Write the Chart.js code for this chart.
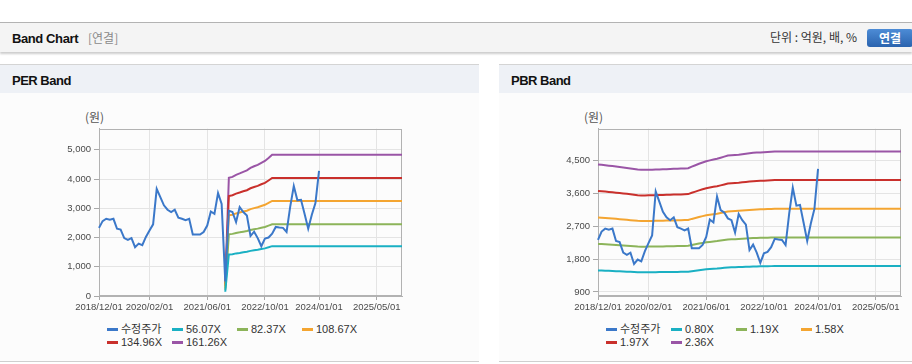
<!DOCTYPE html>
<html><head><meta charset="utf-8">
<script src="https://cdn.jsdelivr.net/npm/chart.js@4.4.1/dist/chart.umd.min.js"></script>
<style>
html,body{margin:0;padding:0;background:#fff;width:912px;height:364px;overflow:hidden;font-family:"Liberation Sans","Noto Sans CJK KR",sans-serif;}
.abs{position:absolute;}
#topbar{left:0;top:22px;width:912px;height:29px;background:#f4f4f4;border-top:1px solid #b3b3b3;box-shadow:0 2px 2px rgba(0,0,0,0.2);}
#title{left:12px;top:31px;font-size:13px;line-height:16px;font-weight:bold;color:#111;letter-spacing:-0.4px;}
#sub{left:88px;top:30px;font-size:12px;line-height:16px;color:#8a8a8a;font-family:"Noto Sans CJK KR",sans-serif;}
#unit{right:55px;top:29px;font-size:12px;line-height:16px;color:#333;font-family:"Noto Sans CJK KR",sans-serif;}
#btn{left:867px;top:29px;width:46px;height:18px;border-radius:3px;background:linear-gradient(#4d8cd6,#2a63ae);color:#fff;font-weight:bold;font-size:12px;line-height:18px;text-align:center;font-family:"Noto Sans CJK KR",sans-serif;}
.panel{top:64px;height:296px;border-top:1px solid #d4d4d4;border-bottom:1px solid #cfcfcf;background:#fcfcfc;}
.phead{left:0;top:0;right:0;height:28px;background:#eef1f6;}
.ptitle{top:8px;left:12px;font-size:13px;line-height:16px;font-weight:bold;color:#111;letter-spacing:-0.5px;}
.ylab{font-size:12px;line-height:16px;color:#555;font-family:"Noto Sans CJK KR",sans-serif;}
.legend{top:323px;width:270px;font-size:11px;line-height:13px;color:#333;}
.item{display:inline-block;width:65px;white-space:nowrap;}
.mk{display:inline-block;width:11px;height:3px;vertical-align:middle;margin-right:3px;position:relative;top:-1px;}
canvas{position:absolute;}
</style>
</head><body>
<div id="topbar" class="abs"></div>
<div id="title" class="abs">Band Chart</div>
<div id="sub" class="abs">[연결]</div>
<div id="unit" class="abs">단위 : 억원, 배, %</div>
<div id="btn" class="abs">연결</div>

<div class="abs panel" style="left:0;width:479px;"><div class="abs phead"></div><div class="abs ptitle">PER Band</div></div>
<div class="abs panel" style="left:499px;width:413px;"><div class="abs phead"></div><div class="abs ptitle">PBR Band</div></div>

<div class="abs ylab" style="left:85px;top:109px;">(원)</div>
<div class="abs ylab" style="left:584px;top:109px;">(원)</div>

<canvas id="per" width="365" height="196" style="left:50px;top:120px;"></canvas>
<canvas id="pbr" width="363" height="196" style="left:549px;top:120px;"></canvas>

<div id="perLegend" class="abs legend" style="left:107px;"></div>
<div id="pbrLegend" class="abs legend" style="left:606px;"></div>

<script>
// ---------- categories (monthly, 2018/12 .. 2025/12) ----------
const months = [];
for (let y = 2018, m = 12; y < 2026; ) {
  months.push(y + '/' + String(m).padStart(2, '0') + '/01');
  if (y === 2025 && m === 12) break;
  m++; if (m > 12) { m = 1; y++; }
}
const xTickLabels = ['2018/12/01','2020/02/01','2021/06/01','2022/10/01','2024/01/01','2025/05/01'];
const perYTicks = [0,1000,2000,3000,4000,5000];
const pbrYTicks = [900,1800,2700,3600,4500];

const perNames = ['수정주가','56.07X','82.37X','108.67X','134.96X','161.26X'];
const pbrNames = ['수정주가','0.80X','1.19X','1.58X','1.97X','2.36X'];
const colors = ['#3b78c9','#1ab0c3','#8cb45a','#f4a531','#c9302c','#9a55a6'];

// ---------- price (수정주가) ----------
const perPrice = [2330,2560,2640,2610,2640,2300,2270,1980,1920,1980,
  1670,1790,1740,2020,2240,2450,3660,3380,3100,2950,
  2870,2950,2680,2640,2590,2640,2100,2100,2100,2190,
  2410,2890,2810,3520,3150,500,2920,2870,2530,3040,
  2870,2750,2050,2200,1980,1700,1960,2000,2130,2360,
  2340,2330,2190,3050,3760,3270,3290,2800,2300,2780,
  3180,4280];
const pbrPrice = [2330,2560,2640,2610,2640,2300,2270,1980,1920,1980,
  1670,1790,1740,2020,2240,2450,3660,3380,3100,2950,
  2870,2950,2680,2640,2590,2640,2100,2100,2100,2190,
  2410,2890,2810,3520,3150,3080,2920,2870,2530,3040,
  2870,2750,2050,2200,1980,1700,1960,2000,2130,2360,
  2340,2330,2190,3050,3760,3270,3290,2800,2300,2780,
  3180,4280];

// ---------- PER band ----------
const per56 = [null,null,null,null,null,null,null,null,null,null,null,null,null,null,null,null,null,null,null,null,
  null,null,null,null,null,null,null,null,null,null,null,null,null,null,null,
  146,1420,1431,1457,1474,1494,1511,1543,1563,1580,1605,1628,1665,1705,
  1705,1705,1705,1705,1705,1705,1705,1705,1705,1705,1705,1705,1705,1705,1705,1705,1705,1705,
  1705,1705,1705,1705,1705,1705,1705,1705,1705,1705,1705,1705,1705,1705,1705,1705,1705,1705];
const per82 = [null,null,null,null,null,null,null,null,null,null,null,null,null,null,null,null,null,null,null,null,
  null,null,null,null,null,null,null,null,null,null,null,null,null,null,null,
  214,2110,2124,2155,2176,2200,2220,2258,2283,2303,2334,2362,2407,2455,
  2455,2455,2455,2455,2455,2455,2455,2455,2455,2455,2455,2455,2455,2455,2455,2455,2455,2455,
  2455,2455,2455,2455,2455,2455,2455,2455,2455,2455,2455,2455,2455,2455,2455,2455,2455,2455];
const per108 = [null,null,null,null,null,null,null,null,null,null,null,null,null,null,null,null,null,null,null,null,
  null,null,null,null,null,null,null,null,null,null,null,null,null,null,null,
  283,2760,2780,2824,2853,2887,2917,2971,3005,3034,3079,3118,3181,3250,
  3250,3250,3250,3250,3250,3250,3250,3250,3250,3250,3250,3250,3250,3250,3250,3250,3250,3250,
  3250,3250,3250,3250,3250,3250,3250,3250,3250,3250,3250,3250,3250,3250,3250,3250,3250,3250];
const per134 = [null,null,null,null,null,null,null,null,null,null,null,null,null,null,null,null,null,null,null,null,
  null,null,null,null,null,null,null,null,null,null,null,null,null,null,null,
  351,3420,3445,3500,3537,3580,3617,3684,3728,3764,3820,3869,3949,4035,
  4035,4035,4035,4035,4035,4035,4035,4035,4035,4035,4035,4035,4035,4035,4035,4035,4035,4035,
  4035,4035,4035,4035,4035,4035,4035,4035,4035,4035,4035,4035,4035,4035,4035,4035,4035,4035];
const per161 = [null,null,null,null,null,null,null,null,null,null,null,null,null,null,null,null,null,null,null,null,
  null,null,null,null,null,null,null,null,null,null,null,null,null,null,null,
  419,4040,4072,4143,4190,4245,4293,4380,4435,4482,4554,4617,4719,4830,
  4830,4830,4830,4830,4830,4830,4830,4830,4830,4830,4830,4830,4830,4830,4830,4830,4830,4830,
  4830,4830,4830,4830,4830,4830,4830,4830,4830,4830,4830,4830,4830,4830,4830,4830,4830,4830];

// ---------- PBR band ----------
const pbr080 = [1492,1488,1484,1480,1476,1472,1468,1464,1459,1454,
  1449,1445,1442,1442,1442,1443,1445,1446,1447,1448,
  1449,1451,1452,1454,1455,1457,1471,1485,1498,1510,
  1522,1529,1537,1544,1554,1564,1575,1578,1580,1583,
  1587,1592,1596,1600,1602,1604,1606,1608,1610,1613,
  1613,1613,1613,1613,1613,1613,1613,1613,1613,1613,1613,1613,1613,1613,1613,1613,1613,1613,
  1613,1613,1613,1613,1613,1613,1613,1613,1613,1613,1613,1613,1613,1613,1613,1613,1613];
const pbr119 = [2219,2214,2208,2202,2196,2190,2183,2177,2171,2163,
  2156,2149,2145,2145,2146,2147,2149,2151,2152,2154,
  2156,2158,2160,2162,2164,2167,2188,2209,2229,2246,
  2264,2275,2287,2297,2312,2327,2343,2347,2351,2355,
  2361,2368,2374,2380,2383,2386,2389,2392,2395,2399,
  2399,2399,2399,2399,2399,2399,2399,2399,2399,2399,2399,2399,2399,2399,2399,2399,2399,2399,
  2399,2399,2399,2399,2399,2399,2399,2399,2399,2399,2399,2399,2399,2399,2399,2399,2399];
const pbr158 = [2946,2939,2931,2923,2916,2908,2899,2891,2882,2872,
  2862,2853,2847,2847,2849,2851,2853,2855,2857,2860,
  2863,2865,2868,2871,2873,2877,2906,2932,2959,2983,
  3006,3021,3036,3050,3070,3090,3111,3116,3121,3127,
  3135,3144,3152,3160,3164,3168,3172,3176,3180,3185,
  3185,3185,3185,3185,3185,3185,3185,3185,3185,3185,3185,3185,3185,3185,3185,3185,3185,3185,
  3185,3185,3185,3185,3185,3185,3185,3185,3185,3185,3185,3185,3185,3185,3185,3185,3185];
const pbr197 = [3673,3665,3655,3645,3635,3625,3614,3604,3594,3581,
  3569,3558,3550,3550,3552,3554,3558,3560,3563,3566,
  3569,3573,3576,3579,3583,3587,3623,3656,3690,3719,
  3748,3766,3786,3803,3827,3852,3879,3886,3892,3898,
  3909,3920,3930,3940,3945,3950,3955,3960,3965,3971,
  3971,3971,3971,3971,3971,3971,3971,3971,3971,3971,3971,3971,3971,3971,3971,3971,3971,3971,
  3971,3971,3971,3971,3971,3971,3971,3971,3971,3971,3971,3971,3971,3971,3971,3971,3971];
const pbr236 = [4400,4390,4378,4366,4355,4343,4330,4318,4305,4290,
  4275,4262,4253,4253,4255,4258,4262,4265,4268,4272,
  4276,4280,4284,4288,4292,4297,4340,4380,4420,4455,
  4490,4512,4535,4556,4585,4615,4647,4655,4662,4670,
  4683,4696,4708,4720,4726,4732,4738,4744,4750,4757,
  4757,4757,4757,4757,4757,4757,4757,4757,4757,4757,4757,4757,4757,4757,4757,4757,4757,4757,
  4757,4757,4757,4757,4757,4757,4757,4757,4757,4757,4757,4757,4757,4757,4757,4757,4757];

const perSeries = [perPrice, per56, per82, per108, per134, per161];
const pbrSeries = [pbrPrice, pbr080, pbr119, pbr158, pbr197, pbr236];

const boxPlugin = {
  id: 'plotBox',
  beforeDatasetsDraw(chart) {
    const a = chart.chartArea, ctx = chart.ctx;
    ctx.save();
    ctx.strokeStyle = '#b2b2b2';
    ctx.lineWidth = 1;
    ctx.strokeRect(Math.round(a.left) + 0.5, Math.round(a.top) + 0.5,
      Math.round(a.right - a.left) - 1, Math.round(a.bottom - a.top) - 1);
    ctx.restore();
  }
};

function makeChart(id, names, series, yMin, yMax, yTicks, padRight) {
  const datasets = series.map((d, i) => ({
    label: names[i], data: d, borderColor: colors[i], backgroundColor: colors[i],
    borderWidth: 2, pointRadius: 0, pointHoverRadius: 0, tension: 0, fill: false, spanGaps: false
  }));
  const tickFont = { family: '"Liberation Sans", Arial, sans-serif', size: 9.5 };
  return new Chart(document.getElementById(id), {
    type: 'line',
    data: { labels: months, datasets },
    options: {
      responsive: false, animation: false, devicePixelRatio: 1,
      layout: { padding: { top: 8, right: padRight, left: 0, bottom: 0 } },
      plugins: { legend: { display: false }, tooltip: { enabled: false }, title: { display: false } },
      scales: {
        x: {
          type: 'category', offset: false,
          grid: { color: '#e4e4e4', tickColor: '#a8a8a8', tickLength: 4, drawTicks: true },
          border: { color: '#b2b2b2' },
          ticks: { autoSkip: false, maxRotation: 0, minRotation: 0, font: tickFont, color: '#4a4a4a', padding: 2 },
          afterBuildTicks(scale) {
            scale.ticks = xTickLabels.map(l => ({ value: months.indexOf(l) }));
          },
          afterFit(scale) { scale.height = 20; }
        },
        y: {
          type: 'linear', min: yMin, max: yMax,
          grid: { color: '#e4e4e4', tickColor: '#a8a8a8', tickLength: 5, drawTicks: true },
          border: { color: '#b2b2b2' },
          ticks: { font: tickFont, color: '#4a4a4a', padding: 3,
            callback: v => Number(v).toLocaleString('en-US') },
          afterBuildTicks(scale) { scale.ticks = yTicks.map(v => ({ value: v })); },
          afterFit(scale) { scale.width = 49; }
        }
      }
    },
    plugins: [boxPlugin]
  });
}

makeChart('per', perNames, perSeries, 0, 5720, perYTicks, 13);
makeChart('pbr', pbrNames, pbrSeries, 790, 5382, pbrYTicks, 11);

function buildLegend(id, names) {
  const el = document.getElementById(id);
  names.forEach((n, i) => {
    const it = document.createElement('span');
    it.className = 'item';
    const mk = document.createElement('span');
    mk.className = 'mk';
    mk.style.background = colors[i];
    it.appendChild(mk);
    it.appendChild(document.createTextNode(n));
    el.appendChild(it);
    if (i === 3) el.appendChild(document.createElement('br'));
  });
}
buildLegend('perLegend', perNames);
buildLegend('pbrLegend', pbrNames);
</script>
</body></html>
